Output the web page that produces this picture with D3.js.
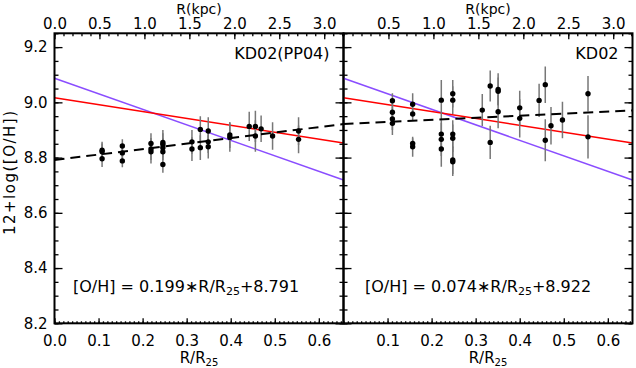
<!DOCTYPE html>
<html>
<head>
<meta charset="utf-8">
<script src="https://cdn.jsdelivr.net/npm/d3@7"></script>
<style>
  body { margin: 0; background: #fff; }
  text { font-family: "DejaVu Sans", sans-serif; fill: #000; }
</style>
</head>
<body>
<div id="canvas"></div>
<script>
// values
const r25Ticks = [0.0, 0.1, 0.2, 0.3, 0.4, 0.5, 0.6];
const kpcTicks = [0.0, 0.5, 1.0, 1.5, 2.0, 2.5, 3.0];
const ohTicks = [8.2, 8.4, 8.6, 8.8, 9.0, 9.2];

// KD02(PP04) panel
const leftR = [0.108, 0.108, 0.108, 0.154, 0.154, 0.154, 0.219, 0.219, 0.219,
  0.246, 0.246, 0.246, 0.246, 0.246, 0.312, 0.312, 0.331, 0.331, 0.349, 0.349, 0.349,
  0.398, 0.398, 0.442, 0.456, 0.456, 0.469, 0.495, 0.554, 0.554];
const leftOH = [8.827, 8.821, 8.796, 8.842, 8.817, 8.788, 8.851, 8.831, 8.821,
  8.855, 8.848, 8.836, 8.821, 8.775, 8.857, 8.831, 8.902, 8.836, 8.896, 8.857, 8.839,
  8.882, 8.873, 8.913, 8.913, 8.878, 8.904, 8.878, 8.896, 8.866];
const leftErr = [0.03, 0.03, 0.03, 0.024, 0.03, 0.023, 0.037, 0.04, 0.042,
  0.045, 0.04, 0.035, 0.03, 0.03, 0.043, 0.043, 0.048, 0.045, 0.05, 0.04, 0.042,
  0.047, 0.052, 0.053, 0.057, 0.057, 0.048, 0.05, 0.05, 0.05];

// KD02 panel
const rightR = [0.111, 0.111, 0.111, 0.111, 0.157, 0.157, 0.157, 0.157,
  0.222, 0.222, 0.222, 0.222, 0.248, 0.248, 0.248, 0.248, 0.248, 0.248,
  0.315, 0.333, 0.333, 0.351, 0.351, 0.351, 0.400, 0.400, 0.444,
  0.458, 0.458, 0.471, 0.497, 0.555, 0.555];
const rightOH = [9.006, 8.964, 8.94, 8.924, 8.993, 8.958, 8.851, 8.839,
  9.008, 8.885, 8.866, 8.831, 9.031, 9.008, 8.885, 8.87, 8.791, 8.785,
  8.972, 9.059, 8.855, 9.047, 9.04, 8.966, 8.98, 8.942, 9.007,
  9.064, 8.863, 8.915, 8.936, 9.031, 8.875];
const rightErr = [0.027, 0.04, 0.04, 0.042, 0.04, 0.022, 0.019, 0.036,
  0.073, 0.05, 0.06, 0.064, 0.05, 0.05, 0.05, 0.05, 0.05, 0.052,
  0.058, 0.056, 0.06, 0.058, 0.05, 0.06, 0.062, 0.069, 0.06,
  0.066, 0.076, 0.068, 0.066, 0.064, 0.078];

// fits: [slope, intercept]
const fitLeft = [0.199, 8.791];
const fitRight = [0.074, 8.922];
const redLine = [-0.25, 9.017];
const blueLine = [-0.561, 9.087];

const xMax = 0.656;
const R25 = 4.9; // kpc

const width = 636, height = 368;
const pw = 289;
const yTop = 33.3, yBot = 323.3;

const svg = d3.select("#canvas").append("svg")
  .attr("width", width).attr("height", height);
svg.append("rect").attr("width", width).attr("height", height).attr("fill", "#fff");

const y = d3.scaleLinear().domain([8.2, 9.25]).range([yBot, yTop]);

const panels = [
  { x0: 54.5, r: leftR, oh: leftOH, err: leftErr, fit: fitLeft, label: "KD02(PP04)",
    eqA: "[O/H] = 0.199\u2217R/R", eqB: "+8.791", eqX: 73, first: true },
  { x0: 343.5, r: rightR, oh: rightOH, err: rightErr, fit: fitRight, label: "KD02",
    eqA: "[O/H] = 0.074\u2217R/R", eqB: "+8.922", eqX: 365, first: false }
];

const minorR = d3.range(0, 66).map(i => i / 100);
const minorK = d3.range(0, 33).map(i => i / 10);
const minorY = d3.range(0, 22).map(i => 8.2 + i * 0.05);
const noDomain = g => g.select(".domain").remove();

panels.forEach((p, i) => {
  const x = d3.scaleLinear().domain([0, xMax]).range([p.x0, p.x0 + pw]);
  const xk = d3.scaleLinear().domain([0, xMax * R25]).range([p.x0, p.x0 + pw]);
  const g = svg.append("g");

  g.append("clipPath").attr("id", "clip" + i)
    .append("rect").attr("x", p.x0).attr("y", yTop).attr("width", pw).attr("height", yBot - yTop);

  const plot = g.append("g").attr("clip-path", `url(#clip${i})`);

  // reference lines
  const line = d3.line().x(d => x(d[0])).y(d => y(d[1]));
  const lineData = c => [0, xMax].map(v => [v, c[0] * v + c[1]]);
  plot.append("path").datum(lineData(blueLine)).attr("d", line)
    .attr("fill", "none").attr("stroke", "#8a4dff").attr("stroke-width", 1.5);
  plot.append("path").datum(lineData(redLine)).attr("d", line)
    .attr("fill", "none").attr("stroke", "#ff0000").attr("stroke-width", 1.5);

  // error bars
  const pts = p.r.map((v, k) => ({ r: v, oh: p.oh[k], e: p.err[k] }));
  plot.selectAll("line.err").data(pts).enter().append("line")
    .attr("class", "err")
    .attr("x1", d => x(d.r)).attr("x2", d => x(d.r))
    .attr("y1", d => y(d.oh + d.e)).attr("y2", d => y(d.oh - d.e))
    .attr("stroke", "#777").attr("stroke-width", 1.5);

  // fit
  plot.append("path").datum(lineData(p.fit)).attr("d", line)
    .attr("fill", "none").attr("stroke", "#000").attr("stroke-width", 2)
    .attr("stroke-dasharray", "10,6");

  plot.selectAll("circle").data(pts).enter().append("circle")
    .attr("cx", d => x(d.r)).attr("cy", d => y(d.oh)).attr("r", 2.7)
    .attr("fill", "#000");

  // axes
  const ax = sel => sel.selectAll(".tick line").attr("stroke", "#000").attr("stroke-width", 1.3);
  const fmt = d3.format(".1f");

  g.append("g").attr("transform", `translate(0,${yBot})`)
    .call(d3.axisBottom(x).tickValues(minorR).tickSize(-2).tickFormat(""))
    .call(noDomain).call(ax);
  g.append("g").attr("transform", `translate(0,${yBot})`)
    .call(d3.axisBottom(x).tickValues(p.first ? r25Ticks : r25Ticks.slice(1))
      .tickSize(-5).tickPadding(12).tickFormat(fmt))
    .call(noDomain).call(ax)
    .selectAll("text").attr("font-size", 15).attr("font-family", "DejaVu Sans");

  g.append("g").attr("transform", `translate(0,${yTop})`)
    .call(d3.axisTop(xk).tickValues(minorK).tickSize(-3).tickFormat(""))
    .call(noDomain).call(ax);
  g.append("g").attr("transform", `translate(0,${yTop})`)
    .call(d3.axisTop(xk).tickValues(p.first ? kpcTicks : kpcTicks.slice(1))
      .tickSize(-6).tickPadding(4).tickFormat(fmt))
    .call(noDomain).call(ax)
    .selectAll("text").attr("font-size", 15).attr("font-family", "DejaVu Sans");

  g.append("g").attr("transform", `translate(${p.x0},0)`)
    .call(d3.axisLeft(y).tickValues(minorY).tickSize(-4).tickFormat(""))
    .call(noDomain).call(ax);
  const yl = g.append("g").attr("transform", `translate(${p.x0},0)`)
    .call(d3.axisLeft(y).tickValues(ohTicks).tickSize(-8).tickPadding(7)
      .tickFormat(p.first ? fmt : ""))
    .call(noDomain).call(ax);
  yl.selectAll("text").attr("font-size", 15).attr("font-family", "DejaVu Sans");

  g.append("g").attr("transform", `translate(${p.x0 + pw},0)`)
    .call(d3.axisRight(y).tickValues(minorY).tickSize(-4).tickFormat(""))
    .call(noDomain).call(ax);
  g.append("g").attr("transform", `translate(${p.x0 + pw},0)`)
    .call(d3.axisRight(y).tickValues(ohTicks).tickSize(-8).tickFormat(""))
    .call(noDomain).call(ax);

  g.append("rect").attr("x", p.x0).attr("y", yTop).attr("width", pw).attr("height", yBot - yTop)
    .attr("fill", "none").attr("stroke", "#000").attr("stroke-width", 2);

  // texts
  const cx = p.x0 + pw / 2;
  g.append("text").attr("x", cx).attr("y", 13.5).attr("text-anchor", "middle")
    .attr("font-size", 14).text("R(kpc)");

  const xt = g.append("text").attr("x", cx).attr("y", 363).attr("text-anchor", "middle")
    .attr("font-size", 15);
  xt.append("tspan").text("R/R");
  xt.append("tspan").attr("font-size", 10).attr("dy", 3).text("25");

  g.append("text").attr("x", p.x0 + pw - 14).attr("y", 59).attr("text-anchor", "end")
    .attr("font-size", 16).text(p.label);

  const eq = g.append("text").attr("x", p.eqX).attr("y", 292).attr("font-size", 16)
    .attr("xml:space", "preserve");
  eq.append("tspan").text(p.eqA);
  eq.append("tspan").attr("font-size", 11).attr("dy", 3).text("25");
  eq.append("tspan").attr("dy", -3).text(p.eqB);
});

svg.append("text")
  .attr("transform", `translate(15,${(yTop + yBot) / 2 - 6}) rotate(-90)`)
  .attr("text-anchor", "middle").attr("font-size", 15)
  .attr("letter-spacing", 1.5)
  .text("12+log([O/H])");
</script>
</body>
</html>
